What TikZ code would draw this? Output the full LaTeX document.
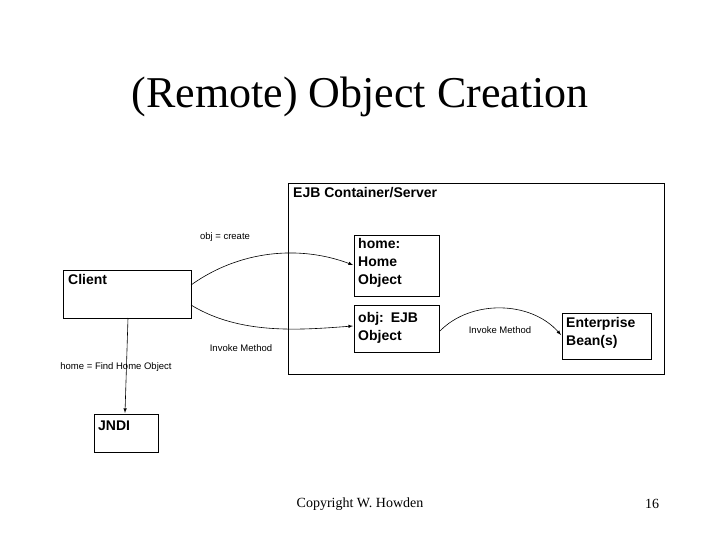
\documentclass[tikz,border=0pt]{standalone}
\usepackage{fontspec}
\setmainfont{Liberation Serif}
\newfontfamily\sansf{Liberation Sans}
\begin{document}
\begin{tikzpicture}[x=1pt,y=-1pt,
    box/.style={draw,line width=1pt,minimum width=0pt,inner sep=0pt},
    btext/.style={font=\sansf\bfseries\fontsize{14}{18}\selectfont,align=left,anchor=north west,inner sep=1pt},
    lbl/.style={font=\sansf\fontsize{9.5}{11}\selectfont},
    arr/.style={-latex,line width=0.6pt}]
    \useasboundingbox (0,0) rectangle (720,540);
    \node at (360,97) (title) {\fontsize{44}{50}\selectfont (Remote) Object Creation};
    \node at (360,504) (copy) {\fontsize{14}{16}\selectfont Copyright W. Howden};
    \node at (652,504) (page) {\fontsize{14}{16}\selectfont 16};

    \draw[line width=1pt] (288,184) rectangle (664,374);
    \draw[line width=1pt] (63,270) rectangle (191,318);
    \draw[line width=1pt] (354,235) rectangle (439,296);
    \draw[line width=1pt] (354,305) rectangle (439,352);
    \draw[line width=1pt] (562,313) rectangle (651,359);
    \draw[line width=1pt] (94,414) rectangle (158,452);

    \node[btext] at (292,186) (server) {EJB Container/Server};
    \node[btext] at (67,273) (client) {Client};
    \node[btext,text width=82pt] at (357,237) (home) {home:\\Home\\Object};
    \node[btext,text width=82pt] at (357,311) (obj) {obj: EJB\\Object};
    \node[btext,text width=88pt] at (565,316) (bean) {Enterprise\\Bean(s)};
    \node[btext] at (97,420) (jndi) {JNDI};

    \coordinate (c1) at (191,285);
    \coordinate (c2) at (191,305);
    \coordinate (c3) at (128,318);
    \coordinate (h1) at (353,265);
    \coordinate (o1) at (353,326);
    \coordinate (o2) at (440,331);
    \coordinate (b1) at (561,335);
    \coordinate (j1) at (125,413);

    \draw[arr] (c1) .. controls (240,250) and (300,245) .. (h1);
    \draw[arr] (c2) .. controls (240,335) and (300,330) .. (o1);
    \draw[arr] (c3) -- (j1);
    \draw[arr] (o2) .. controls (470,300) and (530,300) .. (b1);

    \node[lbl] at (225,237) (l1) {obj = create};
    \node[lbl] at (241,348) (l2) {Invoke Method};
    \node[lbl] at (116,367) (l3) {home = Find Home Object};
    \node[lbl] at (500,330) (l4) {Invoke Method};
\end{tikzpicture}
\end{document}
